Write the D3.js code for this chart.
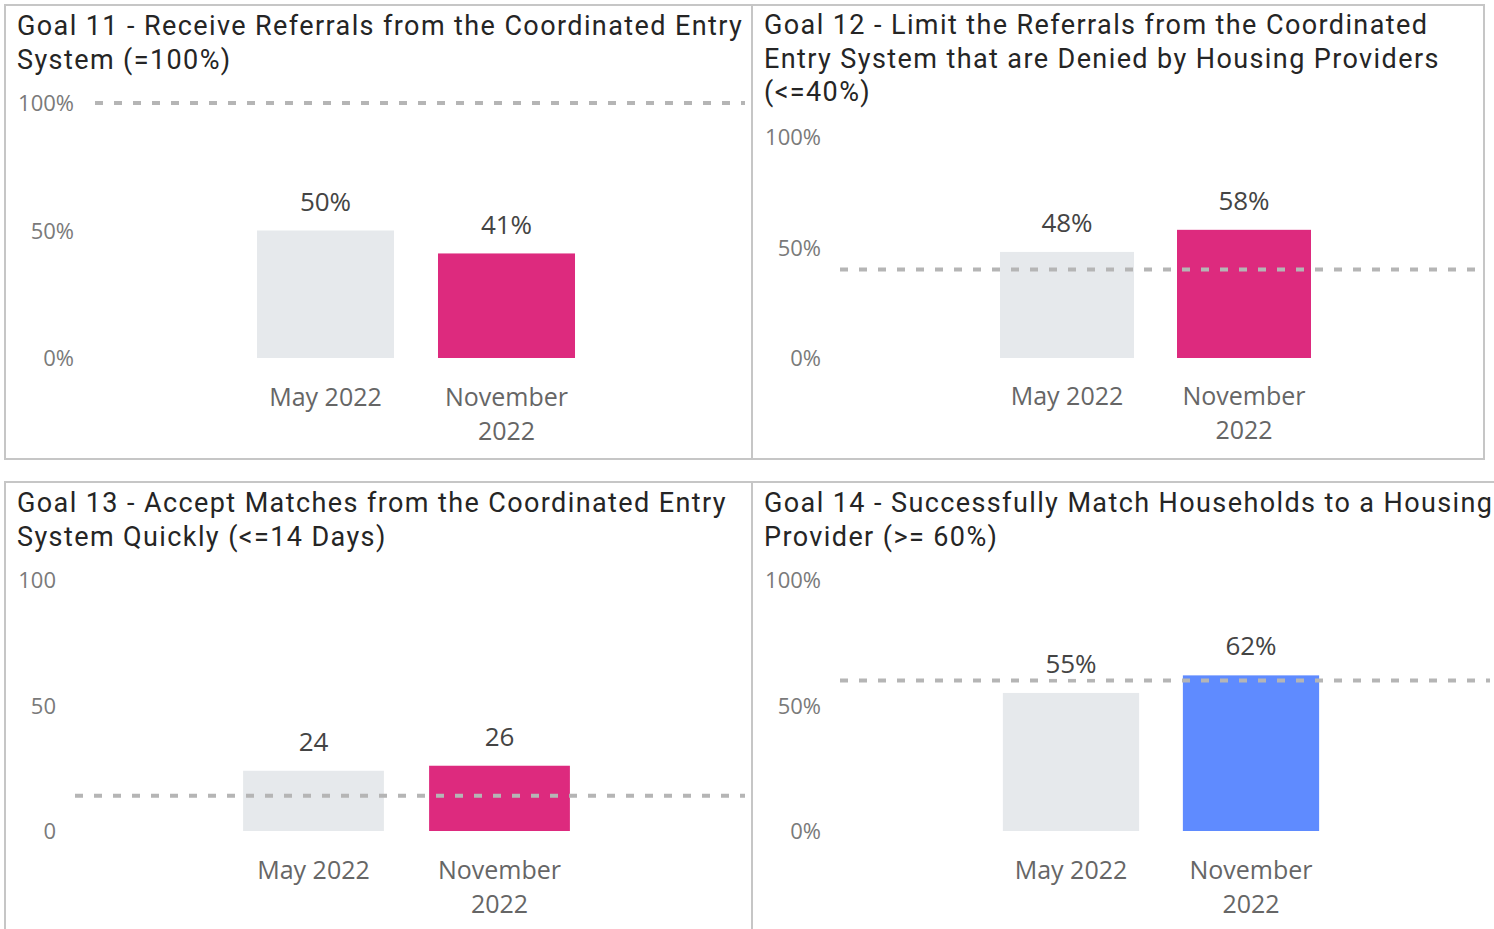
<!DOCTYPE html>
<html>
<head>
<meta charset="utf-8">
<script src="https://cdn.jsdelivr.net/npm/d3@7"></script>
<style>
  html, body { margin: 0; padding: 0; background: #fff; }
  svg { display: block; }
</style>
</head>
<body>
<svg id="chart" width="1494" height="929"></svg>
<script>
// ---- data ----
const categories = ["May 2022", "November 2022"];
const goal11Values = [50, 41];
const goal12Values = [48, 58];
const goal13Values = [24, 26];
const goal14Values = [55, 62];
const targets = [100, 40, 14, 60];
const tickValues = [0, 50, 100];
const titles = [
  ["Goal 11 - Receive Referrals from the Coordinated Entry", "System (=100%)"],
  ["Goal 12 - Limit the Referrals from the Coordinated", "Entry System that are Denied by Housing Providers", "(<=40%)"],
  ["Goal 13 - Accept Matches from the Coordinated Entry", "System Quickly (<=14 Days)"],
  ["Goal 14 - Successfully Match Households to a Housing", "Provider (>= 60%)"]
];
const unitSuffix = ["%", "%", "", "%"];
const highlightColors = ["#DD2A7E", "#DD2A7E", "#DD2A7E", "#5F8BFF"];
const baseColor = "#E6E9EC";

// ---- layout (styling only) ----
const panels = [
  { box: [5, 5, 752, 459], titleX: 17, titleY: 35, y0: 358, y1: 103, xr: [235, 597], axisX: 74, goalX: [95, 745], catY: 397 },
  { box: [752, 5, 1484, 459], titleX: 764, titleY: 34, y0: 358, y1: 137, xr: [978.5, 1332.5], axisX: 821, goalX: [840, 1475], catY: 396 },
  { box: [5, 482, 752, 940], titleX: 17, titleY: 512, y0: 831, y1: 580, xr: [220.5, 592.5], axisX: 56, goalX: [75, 745], catY: 870 },
  { box: [752, 482, 1500, 940], titleX: 764, titleY: 512, y0: 831, y1: 580, xr: [981, 1341], axisX: 821, goalX: [840, 1490], catY: 870 }
];
const allValues = [goal11Values, goal12Values, goal13Values, goal14Values];

const svg = d3.select("#chart");
svg.append("rect").attr("width", 1494).attr("height", 929).attr("fill", "#fff");

panels.forEach((p, i) => {
  const vals = allValues[i];
  const g = svg.append("g");
  const [bx0, by0, bx1, by1] = p.box;
  g.append("rect")
    .attr("x", bx0).attr("y", by0).attr("width", bx1 - bx0).attr("height", by1 - by0)
    .attr("fill", "none").attr("stroke", "#C6C6C6").attr("stroke-width", 2);

  // title
  const t = g.append("text")
    .attr("font-family", "Roboto, 'DejaVu Sans', sans-serif")
    .attr("font-size", 27).attr("fill", "#252525").attr("letter-spacing", 1.4);
  titles[i].forEach((line, k) => {
    t.append("tspan").attr("x", p.titleX).attr("y", p.titleY + k * 33.5).text(line);
  });

  const y = d3.scaleLinear().domain([0, 100]).range([p.y0, p.y1]);
  const x = d3.scaleBand().domain(categories).range(p.xr).paddingInner(0.243).paddingOuter(0.1215);

  // y axis
  const axis = d3.axisLeft(y).tickValues(tickValues).tickSize(0).tickPadding(0)
    .tickFormat(d => d + unitSuffix[i]);
  const ag = g.append("g").attr("transform", `translate(${p.axisX},0)`).call(axis);
  ag.select(".domain").remove();
  ag.selectAll("text")
    .attr("font-family", "'Open Sans', sans-serif").attr("font-size", 22)
    .attr("fill", "#7A7A7A").attr("dy", "0.35em");

  // bars
  g.selectAll("rect.bar").data(vals).join("rect").attr("class", "bar")
    .attr("x", (d, k) => x(categories[k]))
    .attr("y", d => y(d))
    .attr("width", x.bandwidth())
    .attr("height", d => y(0) - y(d))
    .attr("fill", (d, k) => k === 0 ? baseColor : highlightColors[i]);

  // goal line
  g.append("line")
    .attr("x1", p.goalX[0]).attr("x2", p.goalX[1])
    .attr("y1", y(targets[i])).attr("y2", y(targets[i]))
    .attr("stroke", "#B5B5B5").attr("stroke-width", 4).attr("stroke-dasharray", "8,11");

  // value labels
  vals.forEach((d, k) => {
    const cx = x(categories[k]) + x.bandwidth() / 2;
    const lbl = g.append("g");
    const txt = lbl.append("text")
      .attr("x", cx).attr("y", y(d) - 29).attr("dy", "0.35em")
      .attr("text-anchor", "middle")
      .attr("font-family", "'Open Sans', sans-serif").attr("font-size", 26)
      .attr("fill", "#444").text(d + unitSuffix[i]);
    const bb = txt.node().getBBox();
    lbl.insert("rect", "text")
      .attr("x", bb.x - 3).attr("y", bb.y + 4).attr("width", bb.width + 6).attr("height", bb.height - 6)
      .attr("fill", "#fff").attr("opacity", 0.85);
  });

  // category labels (wrapped to bar width)
  categories.forEach((c, k) => {
    const cx = x(c) + x.bandwidth() / 2;
    const txt = g.append("text")
      .attr("text-anchor", "middle")
      .attr("font-family", "'Open Sans', sans-serif").attr("font-size", 25)
      .attr("fill", "#666");
    const probe = txt.append("tspan").attr("x", cx).attr("y", p.catY).attr("dy", "0.35em").text(c);
    if (probe.node().getComputedTextLength() > x.bandwidth()) {
      probe.remove();
      c.split(" ").forEach((w, j) => {
        txt.append("tspan").attr("x", cx).attr("y", p.catY + j * 34).attr("dy", "0.35em").text(w);
      });
    }
  });
});
</script>
</body>
</html>
